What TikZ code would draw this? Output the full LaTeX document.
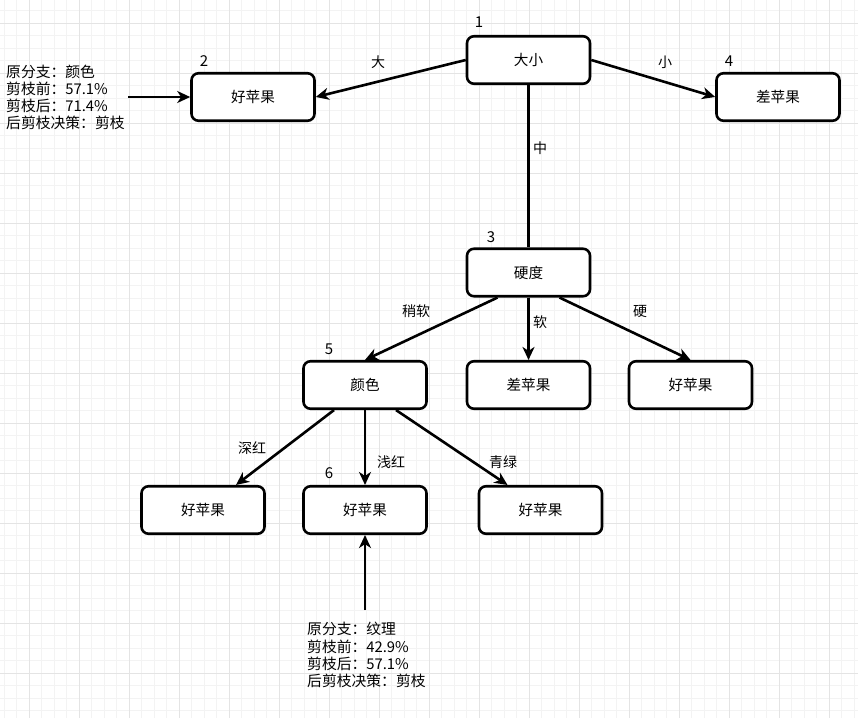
\documentclass[tikz,border=0pt]{standalone}
\usepackage{fontspec}
\setmainfont{Noto Sans CJK SC}
\usetikzlibrary{arrows.meta}
\definecolor{gridminor}{HTML}{F3F3F3}
\definecolor{gridmajor}{HTML}{E4E4E4}
\tikzset{
  box/.style={draw=black, line width=2.6pt, rounded corners=7pt, fill=white,
    minimum width=123pt, minimum height=47.5pt, inner sep=0pt,
    font=\fontsize{14.6}{16}\selectfont},
  conn/.style={line width=2.6pt, -{Stealth[length=13pt,width=12pt,inset=4pt]}},
  plainconn/.style={line width=2.6pt},
  lbl/.style={font=\fontsize{14}{16}\selectfont, inner sep=0pt},
  num/.style={font=\fontsize{15}{17}\selectfont, inner sep=0pt},
  note/.style={font=\fontsize{14.8}{17.2}\selectfont, align=left, inner sep=0pt, anchor=west},
}
\begin{document}
\begin{tikzpicture}[x=1pt,y=-1pt]
\useasboundingbox (0,0) rectangle (858,718);
\fill[white] (0,0) rectangle (858,718);
% grid
\foreach \x in {4,16.5,...,858} \draw[gridminor, line width=0.8pt] (\x,0) -- (\x,718);
\foreach \y in {10.5,23,...,718} \draw[gridminor, line width=0.8pt] (0,\y) -- (858,\y);
\foreach \x in {29,79,...,858} \draw[gridmajor, line width=0.8pt] (\x,0) -- (\x,718);
\foreach \y in {23,73,...,718} \draw[gridmajor, line width=0.8pt] (0,\y) -- (858,\y);

% nodes
\node[box] (n1) at (528.5,60) {大小};
\node[box] (n2) at (253,97) {好苹果};
\node[box] (n4) at (778,97) {差苹果};
\node[box] (n3) at (528.5,272.5) {硬度};
\node[box] (n5) at (365,385) {颜色};
\node[box] (nsoft) at (528.5,385) {差苹果};
\node[box] (nhard) at (690.5,385) {好苹果};
\node[box] (nb1) at (203,510) {好苹果};
\node[box] (n6) at (365,510) {好苹果};
\node[box] (nb3) at (540.5,510) {好苹果};

% numbers
\node[num] (k1) at (479,22) {1};
\node[num] (k2) at (204,61) {2};
\node[num] (k3) at (491,237) {3};
\node[num] (k4) at (729,61) {4};
\node[num] (k5) at (329,349) {5};
\node[num] (k6) at (329,473) {6};

% edges
\draw[conn] (n1.west) -- (n2.east);
\draw[conn] (n1.east) -- (n4.west);
\draw[plainconn] (n1.south) -- (n3.north);
\draw[conn] ([xshift=-31pt]n3.south) -- (n5.north);
\draw[conn] (n3.south) -- (nsoft.north);
\draw[conn] ([xshift=31pt]n3.south) -- (nhard.north);
\draw[conn] ([xshift=-31pt]n5.south) -- ([xshift=33pt]nb1.north);
\draw[conn] (n5.south) -- (n6.north);
\draw[conn] ([xshift=31pt]n5.south) -- ([xshift=-33pt]nb3.north);

% edge labels
\node[lbl] (l1) at (378,62) {大};
\node[lbl] (l2) at (665,62) {小};
\node[lbl] (l3) at (540,148) {中};
\node[lbl] (l4) at (416,311) {稍软};
\node[lbl] (l5) at (540,322) {软};
\node[lbl] (l6) at (640,311) {硬};
\node[lbl] (l7) at (252,448) {深红};
\node[lbl] (l8) at (391,462) {浅红};
\node[lbl] (l9) at (503,462) {青绿};

% annotations
\node[note] (a1) at (6,97.5) {原分支：颜色\\剪枝前：57.1\%\\剪枝后：71.4\%\\后剪枝决策：剪枝};
\coordinate (a1e) at (128,97);
\draw[conn] (a1e) -- (n2.west);
\node[note] (a2) at (307,655) {原分支：纹理\\剪枝前：42.9\%\\剪枝后：57.1\%\\后剪枝决策：剪枝};
\coordinate (a2e) at (365,610);
\draw[conn] (a2e) -- (n6.south);
\end{tikzpicture}
\end{document}
